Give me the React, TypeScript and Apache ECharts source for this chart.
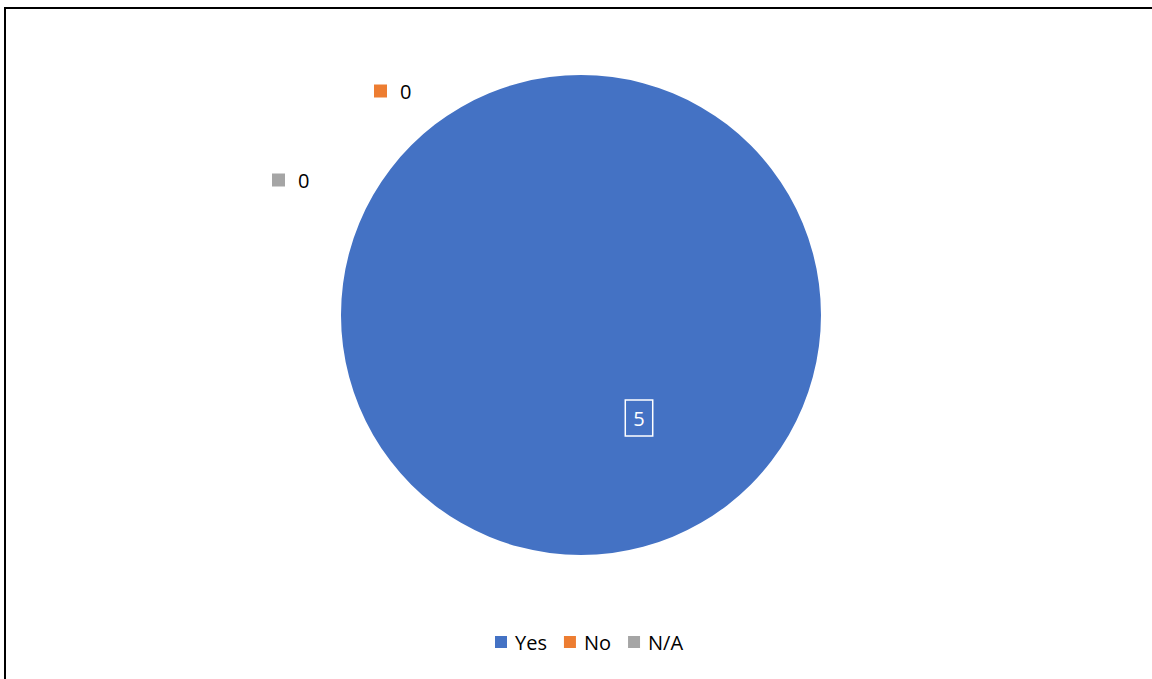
import React, { useEffect, useRef } from "react";
import * as echarts from "echarts";

const categories = ["Yes", "No", "N/A"];
const values = [5, 0, 0];
const colors = ["#4472C4", "#ED7D31", "#A5A5A5"];

// label anchor positions (x, y, align) for each category
const labelSpots: [number, number, "left" | "center"][] = [
  [639, 418, "center"],
  [374, 91, "left"],
  [272, 180, "left"],
];

const FONT = "'Open Sans', 'Liberation Sans', sans-serif";

export default function App() {
  const ref = useRef<HTMLDivElement>(null);
  useEffect(() => {
    if (!ref.current) return;
    const chart = echarts.init(ref.current, undefined, { renderer: "svg" });
    const data = categories.map((name, i) => ({
      name,
      value: values[i],
      itemStyle: { color: colors[i] },
      label:
        i === 0
          ? {
              show: true,
              position: "inside" as const,
              formatter: "{c}",
              color: "#fff",
              fontSize: 20,
              fontFamily: FONT,
              borderColor: "#fff",
              borderWidth: 1.5,
              padding: [9, 8, 7, 8],
            }
          : {
              show: true,
              position: "outside" as const,
              formatter: `{sq${i}|}{gap|}{v|{c}}`,
              rich: {
                [`sq${i}`]: { width: 13, height: 13, backgroundColor: colors[i] },
                gap: { width: 13 },
                v: { fontSize: 20, color: "#000", fontFamily: FONT },
              },
            },
      labelLine: { show: false },
    }));
    chart.setOption({
      animation: false,
      backgroundColor: "#fff",
      textStyle: { fontFamily: FONT },
      graphic: [
        {
          type: "rect",
          shape: { x: 5, y: 8, width: 1300, height: 800 },
          style: { fill: "none", stroke: "#000", lineWidth: 2 },
          silent: true,
        },
      ],
      legend: {
        data: categories,
        bottom: 22,
        left: 490,
        icon: "rect",
        itemWidth: 12,
        itemHeight: 12,
        itemGap: 17,
        textStyle: { fontSize: 20, color: "#000", fontFamily: FONT, padding: [0, 0, 0, 3] },
      },
      series: [
        {
          type: "pie",
          center: [581, 315],
          radius: 240,
          startAngle: 90,
          clockwise: true,
          avoidLabelOverlap: false,
          itemStyle: { borderWidth: 0 },
          emphasis: { disabled: true },
          labelLayout: (params: any) => {
            const s = labelSpots[params.dataIndex];
            return { x: s[0], y: s[1], align: s[2], verticalAlign: "middle", hideOverlap: false };
          },
          data,
        },
      ],
    });
    return () => chart.dispose();
  }, []);
  return (
    <div
      ref={ref}
      style={{ position: "fixed", left: 0, top: 0, width: 1152, height: 679 }}
    />
  );
}
